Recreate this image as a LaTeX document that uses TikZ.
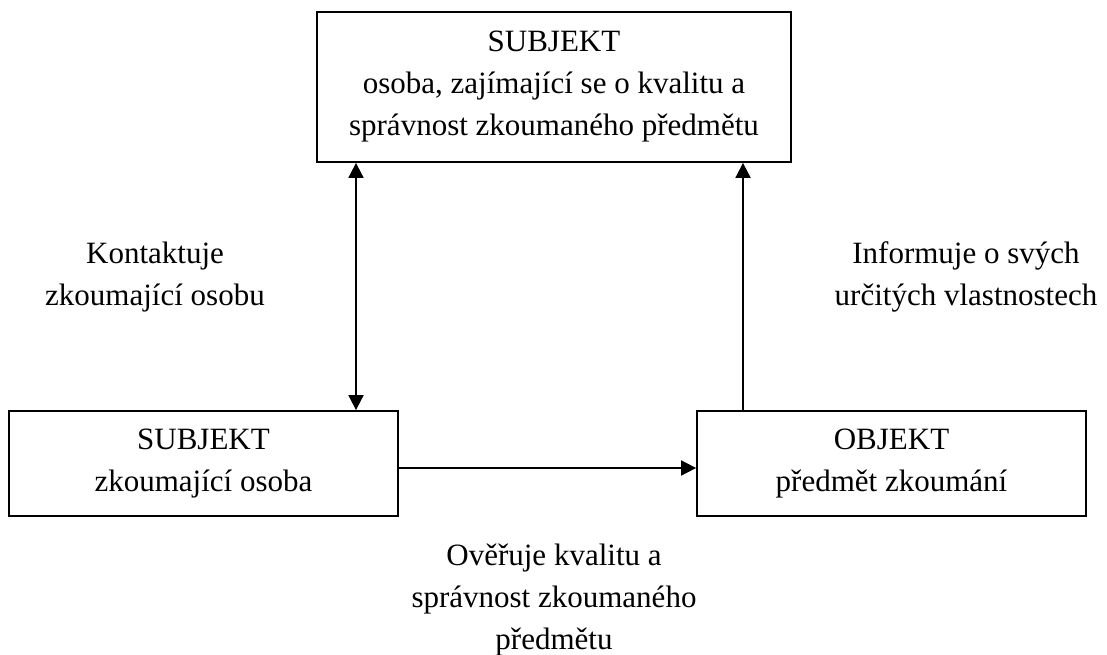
\documentclass[tikz,border=0pt]{standalone}
\usepackage{fontspec}
\setmainfont{Liberation Serif}
\usetikzlibrary{arrows.meta}
\tikzset{mytip/.tip={Triangle[length=15pt,width=15pt]}}
\begin{document}
\begin{tikzpicture}[x=1pt,y=-1pt,
  txt/.style={font=\fontsize{31}{42}\selectfont, align=center, inner sep=0pt},
  boxnode/.style={txt, draw, line width=1.8pt, minimum width=#1, anchor=center},
  conn/.style={line width=1.8pt}]
\useasboundingbox (0,0) rectangle (1107,655);
\node[boxnode=474pt, minimum height=150pt] (top) at (554,87)
  {SUBJEKT\\osoba, zajímající se o kvalitu a\\správnost zkoumaného předmětu};
\node[boxnode=389pt, minimum height=105pt] (ls) at (203.5,463.5)
  {SUBJEKT\\zkoumající osoba};
\node[boxnode=389pt, minimum height=105pt] (ro) at (891.5,463.5)
  {OBJEKT\\předmět zkoumání};
\coordinate (c1) at (356,0);
\coordinate (c2) at (743,0);
\coordinate (c3) at (0,468);
\draw[conn, mytip-mytip] (top.south -| c1) -- (ls.north -| c1);
\draw[conn, -mytip] (ro.north -| c2) -- (top.south -| c2);
\draw[conn, -mytip] (ls.east |- c3) -- (ro.west |- c3);
\node[txt] (l1) at (155,277) {Kontaktuje\\zkoumající osobu};
\node[txt] (l2) at (966,277) {Informuje o svých\\určitých vlastnostech};
\node[txt] (l3) at (554,600) {Ověřuje kvalitu a\\správnost zkoumaného\\předmětu};
\end{tikzpicture}
\end{document}
